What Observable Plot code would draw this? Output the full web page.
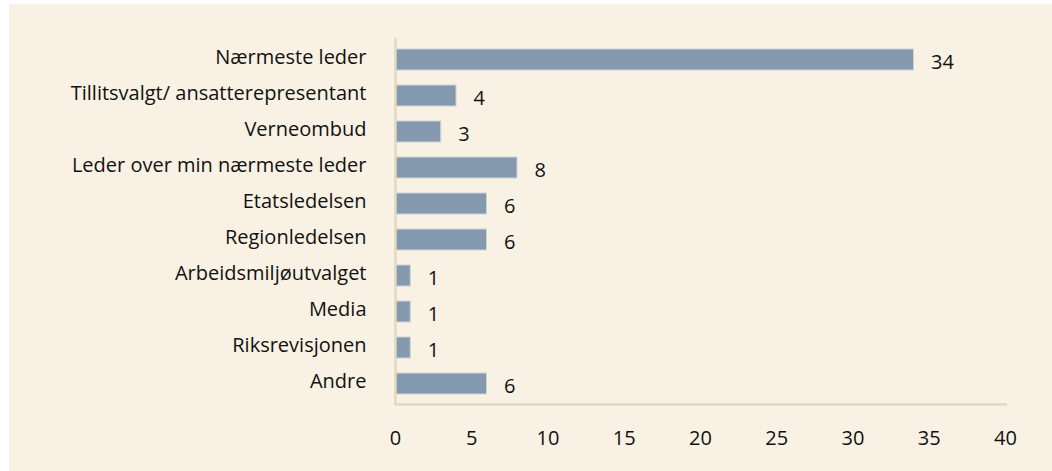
<!DOCTYPE html>
<html>
<head>
<meta charset="utf-8">
<script src="https://cdn.jsdelivr.net/npm/d3@7"></script>
<script src="https://cdn.jsdelivr.net/npm/@observablehq/plot@0.6"></script>
<style>
  html, body { margin: 0; padding: 0; background: #ffffff; }
  #chart { position: absolute; left: 9px; top: 4px; width: 1043px; height: 467px; background: #f9f1e3; }
  #chart svg { display: block; background: #f9f1e3; }
  #chart svg text { font-size: 20px; font-family: 'Open Sans', 'Noto Sans', sans-serif; fill: #111; }
</style>
</head>
<body>
<div id="chart"></div>
<script>
const categories = [
  "Nærmeste leder",
  "Tillitsvalgt/ ansatterepresentant",
  "Verneombud",
  "Leder over min nærmeste leder",
  "Etatsledelsen",
  "Regionledelsen",
  "Arbeidsmiljøutvalget",
  "Media",
  "Riksrevisjonen",
  "Andre"
];
const values = [34, 4, 3, 8, 6, 6, 1, 1, 1, 6];
const xTicks = [0, 5, 10, 15, 20, 25, 30, 35, 40];

const data = categories.map((c, i) => ({category: c, value: values[i]}));

const font = "'Open Sans', 'Noto Sans', sans-serif";
const axisColor = "#e2d8c1";

const chart = Plot.plot({
  width: 1043,
  height: 467,
  marginLeft: 386,
  marginRight: 47,
  marginTop: 34,
  marginBottom: 67,
  style: {fontFamily: font, fontSize: "20px", color: "#111", background: "#f9f1e3"},
  x: {domain: [0, 40], ticks: xTicks},
  y: {domain: categories, paddingInner: 0.42, paddingOuter: 0.21},
  marks: [
    Plot.barX(data, {x: "value", y: "category", fill: "#8499ad", stroke: "#cfd3d2", strokeWidth: 1}),
    Plot.text(data, {x: "value", y: "category", text: d => String(d.value), dx: 17, dy: 3, textAnchor: "start", fontSize: 20, fill: "#111"}),
    Plot.ruleX([0], {stroke: axisColor, strokeWidth: 2.5}),
    Plot.frame({anchor: "bottom", stroke: axisColor, strokeWidth: 2.5}),
    Plot.axisX({ticks: xTicks, tickSize: 0, tickPadding: 26, label: null, fontSize: 20}),
    Plot.axisY({tickSize: 0, tickPadding: 29, dy: -2, label: null, fontSize: 20})
  ]
});
document.getElementById("chart").appendChild(chart);
</script>
</body>
</html>
